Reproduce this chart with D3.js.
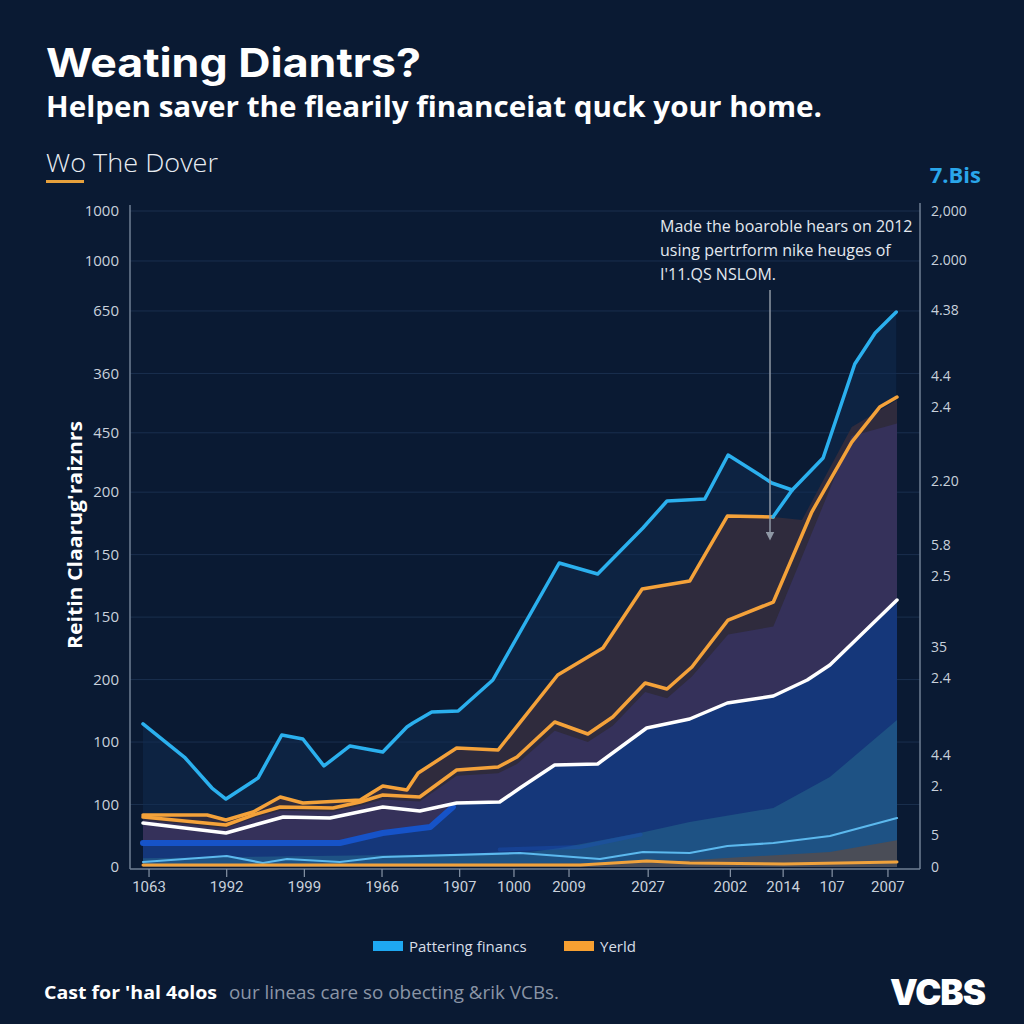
<!DOCTYPE html>
<html>
<head>
<meta charset="utf-8">
<script src="https://cdn.jsdelivr.net/npm/d3@7"></script>
<style>
  html, body { margin: 0; padding: 0; background: #0a1a33; }
  svg { display: block; }
</style>
</head>
<body>
<svg id="chart" width="1024" height="1024"></svg>
<script>
// ---------------- DATA ----------------
// x in period units (0..100), y in value units (0..1050)
const leftTickValues = [0, 100, 200, 300, 400, 500, 600, 695, 790, 890, 970, 1050];
const leftTickLabels = ["0", "100", "100", "200", "150", "150", "200", "450", "360", "650", "1000", "1000"];
const rightTickValues = [0, 51, 130, 179, 302, 352, 466, 515, 618, 736, 786, 891, 971, 1050];
const rightTickLabels = ["0", "5", "2.", "4.4", "2.4", "35", "2.5", "5.8", "2.20", "2.4", "4.4", "4.38", "2.000", "2,000"];
const xTickValues = [0.8, 11.1, 21.4, 31.7, 42.0, 49.2, 56.5, 67.0, 77.9, 84.9, 91.4, 98.8];
const xTickLabels = ["1063", "1992", "1999", "1966", "1907", "1000", "2009", "2027", "2002", "2014", "107", "2007"];

const blueMain = [[0,229],[5.6,174.5],[9.15,126.4],[11,108.8],[15.25,142.4],[18.4,211.3],[21.2,204.9],[24,161.7],
  [27.45,193.7],[31.8,184.1],[35,224.1],[35.8,230.5],[38.3,248.1],[41.8,249.7],[46.4,299.3],[55.2,486.6],
  [60.3,469],[66.3,542.6],[69.5,585.8],[74.5,589],[77.6,659.4],[81.8,627.4],[83.4,614.6],[86.1,603.4]];
const blueRise = [[83.55,560.2],[86.1,603.4],[90.2,654.6],[94.4,805.1],[97.1,854.7],[99.9,888.3]];

const orangeUpper = [[0,83.2],[8.5,83.2],[11,75.2],[14.6,88],[18.2,112],[21.2,102.4],[28.8,107.2],[31.8,129.6],
  [35,123.2],[36.5,150.4],[41.6,190.5],[47.1,187.3],[55,307.3],[61,350.5],[66.2,444.9],[72.5,457.7],[77.5,561.8],[83.6,560.2]];
const orangeLower = [[0,80],[11,67.2],[14.6,83.2],[18.2,96],[25.2,94.4],[28.8,104],[31.8,115.2],[36.7,112],[41.6,155.2],
  [47.1,160.1],[49.6,176.1],[54.6,232.1],[59,212.9],[62.3,240.1],[66.6,294.5],[69.5,284.9],[72.8,320.1],[77.6,395.3],
  [83.6,424.1],[88.7,568.2],[94,680.2],[97.7,736.2],[100,752.2]];
const whiteLine = [[0,70.4],[11,54.4],[18.6,80],[24.8,78.4],[31.8,96],[36.7,89.6],[41.6,102.4],[47.3,104],[50,126.4],
  [54.6,163.3],[60.3,164.9],[66.8,222.5],[72.5,236.9],[77.5,262.5],[83.6,273.7],[88.1,299.3],[91.1,323.3],[100,427.3]];
const blueBand = [[0,38.4],[26.1,38.4],[31.8,54.4],[38.1,64],[41.1,96]];
const blueBand2 = [[47.3,28],[58,32],[66,52]];
const lightLine = [[0,8],[11.1,17.6],[15.9,6.4],[19.1,12.8],[26.1,8],[31.8,16],[50,22.4],[60.6,12.8],[66.3,24],
  [72.5,22.4],[77.5,33.6],[83.6,38.4],[91.1,49.6],[100,78.4]];
const orangeBottom = [[0,3.2],[58,3.2],[66.8,9.6],[72.5,6.4],[85,5],[100,8]];

const brownExtra = [[87.4,555.4],[94,704.2],[100,747.4]];
const purpleTop = [[0,75],[11,62],[14.6,78],[18.2,90],[25.2,89],[28.8,98],[31.8,108],[36.7,105],[41.6,146],[47.1,150],
  [49.6,165],[54.6,218],[59,200],[62.3,226],[66.6,280],[69.5,270],[72.8,305],[77.6,372],[83.6,385],[94,690],[100,710]];
const steelTop = [[0,14],[50,22],[55.3,30.4],[65.9,54.4],[72.5,72],[83.6,94.4],[91.1,144],[100,235.3]];
const greyTop = [[0,3],[60,6],[72.5,11],[91.1,24],[100,43]];

// ---------------- LAYOUT ----------------
const svg = d3.select("#chart");
const W = 1024, H = 1024;
const x = d3.scaleLinear().domain([0, 100]).range([143, 897]);
const y = d3.scaleLinear().domain([0, 1050]).range([867, 211]);
const plotL = 130, plotR = 920, plotB = 869, plotT = 205;

svg.append("rect").attr("width", W).attr("height", H).attr("fill", "#0a1a33");

// gridlines
svg.append("g").selectAll("line").data(leftTickValues.slice(1)).join("line")
  .attr("x1", plotL).attr("x2", plotR)
  .attr("y1", d => y(d)).attr("y2", d => y(d))
  .attr("stroke", "#1a2f4e").attr("stroke-width", 1);

const line = d3.line().x(d => x(d[0])).y(d => y(d[1]));
const area = d3.area().x(d => x(d[0])).y0(y(0)).y1(d => y(d[1]));

// areas
const underBlue = blueMain.concat(blueRise.slice(2));
svg.append("path").attr("d", area(underBlue)).attr("fill", "#0f2b52").attr("opacity", 0.5);
svg.append("path").attr("d", area(orangeUpper.concat(brownExtra))).attr("fill", "#2f2b3d");
svg.append("path").attr("d", area(purpleTop)).attr("fill", "#35315a");
const navyTop = blueBand.concat(whiteLine.filter(d => d[0] > 41.2));
svg.append("path").attr("d", area(navyTop)).attr("fill", "#15377a");
svg.append("path").attr("d", area(steelTop)).attr("fill", "#1e5284");
svg.append("path").attr("d", area(greyTop)).attr("fill", "#4a4d57");

// lines
function drawLine(data, color, w, op) {
  svg.append("path").attr("d", line(data)).attr("fill", "none")
    .attr("stroke", color).attr("stroke-width", w).attr("stroke-linejoin", "round")
    .attr("stroke-linecap", "round").attr("opacity", op || 1);
}
drawLine(blueBand, "#1653c8", 6);
drawLine(blueBand2, "#1a4fb8", 4, 0.4);
drawLine(lightLine, "#5cb9ee", 2.2);
drawLine(orangeBottom, "#f0a23c", 3);
drawLine(whiteLine, "#ffffff", 3.5);
drawLine(orangeLower, "#f4a23a", 3.5);
drawLine(orangeUpper, "#f4a23a", 3.5);
drawLine(blueMain, "#2bb0ee", 3.5);
drawLine(blueRise, "#2bb0ee", 3.5);

// axes lines
svg.append("line").attr("x1", plotL).attr("x2", plotL).attr("y1", plotT).attr("y2", plotB)
  .attr("stroke", "#6f7f95").attr("stroke-width", 1.5);
svg.append("line").attr("x1", plotR).attr("x2", plotR).attr("y1", plotT - 2).attr("y2", plotB)
  .attr("stroke", "#6f7f95").attr("stroke-width", 1.5);
svg.append("line").attr("x1", plotL).attr("x2", plotR).attr("y1", plotB).attr("y2", plotB)
  .attr("stroke", "#6f7f95").attr("stroke-width", 1.5);

// left ticks
svg.append("g").selectAll("text").data(leftTickValues).join("text")
  .attr("x", 119).attr("y", d => y(d)).attr("dy", "0.35em")
  .attr("text-anchor", "end").attr("fill", "#c9d1dc")
  .attr("font-family", "'Open Sans', sans-serif").attr("font-size", 15)
  .text((d, i) => leftTickLabels[i]);

// right ticks
svg.append("g").selectAll("text").data(rightTickValues).join("text")
  .attr("x", 931).attr("y", d => y(d)).attr("dy", "0.35em")
  .attr("text-anchor", "start").attr("fill", "#c9d1dc")
  .attr("font-family", "'Open Sans', sans-serif").attr("font-size", 14)
  .text((d, i) => rightTickLabels[i]);

// x ticks
const xg = svg.append("g");
xg.selectAll("line").data(xTickValues).join("line")
  .attr("x1", d => x(d)).attr("x2", d => x(d)).attr("y1", plotB).attr("y2", plotB + 8)
  .attr("stroke", "#8794a6").attr("stroke-width", 1.2);
xg.selectAll("text").data(xTickValues).join("text")
  .attr("x", d => x(d)).attr("y", 892)
  .attr("text-anchor", "middle").attr("fill", "#c9d1dc")
  .attr("font-family", "Roboto, sans-serif").attr("font-size", 15)
  .text((d, i) => xTickLabels[i]);

// y-axis title
svg.append("text").attr("transform", "translate(82,535) rotate(-90)")
  .attr("text-anchor", "middle").attr("fill", "#ffffff").attr("font-weight", 700)
  .attr("font-family", "'Open Sans', sans-serif").attr("font-size", 19)
  .attr("textLength", 228).attr("lengthAdjust", "spacingAndGlyphs")
  .text("Reitin Claarug'raiznrs");

// annotation
const ann = ["Made the boaroble hears on 2012", "using pertrform nike heuges of", "I'11.QS NSLOM."];
svg.append("g").selectAll("text").data(ann).join("text")
  .attr("x", 660).attr("y", (d, i) => 232 + i * 24)
  .attr("fill", "#e3e8ef").attr("font-family", "'Open Sans', sans-serif").attr("font-size", 16)
  .text(d => d);
svg.append("defs").append("marker").attr("id", "arr").attr("viewBox", "0 0 10 10")
  .attr("refX", 5).attr("refY", 5).attr("markerWidth", 6).attr("markerHeight", 6).attr("orient", "auto")
  .append("path").attr("d", "M0,0 L10,5 L0,10 z").attr("fill", "#8f98a5");
svg.append("line").attr("x1", 770).attr("x2", 770).attr("y1", 290).attr("y2", 536)
  .attr("stroke", "#8f98a5").attr("stroke-width", 1.5).attr("marker-end", "url(#arr)");

// titles
svg.append("text").attr("x", 46).attr("y", 77).attr("fill", "#ffffff")
  .attr("font-family", "Inter, 'Open Sans', sans-serif").attr("font-weight", 700).attr("font-size", 40)
  .attr("textLength", 375).attr("lengthAdjust", "spacingAndGlyphs")
  .text("Weating Diantrs?");
svg.append("text").attr("x", 46).attr("y", 117).attr("fill", "#ffffff")
  .attr("font-family", "'Open Sans', sans-serif").attr("font-weight", 700).attr("font-size", 28)
  .attr("textLength", 776).attr("lengthAdjust", "spacingAndGlyphs")
  .text("Helpen saver the flearily financeiat quck your home.");
svg.append("text").attr("x", 46).attr("y", 172).attr("fill", "#e8ecf2")
  .attr("font-family", "'Open Sans', sans-serif").attr("font-weight", 300).attr("font-size", 26)
  .attr("textLength", 172).attr("lengthAdjust", "spacingAndGlyphs")
  .text("Wo The Dover");
svg.append("rect").attr("x", 46).attr("y", 180).attr("width", 38).attr("height", 3).attr("fill", "#e6a03c");
svg.append("text").attr("x", 981).attr("y", 183).attr("text-anchor", "end").attr("fill", "#2aa6ea")
  .attr("font-family", "'Open Sans', sans-serif").attr("font-weight", 700).attr("font-size", 22)
  .text("7.Bis");

// legend
const legendItems = ["Pattering financs", "Yerld"];
const legendColors = ["#1ea8f2", "#f7a032"];
const legendX = [373, 564];
legendItems.forEach((t, i) => {
  svg.append("rect").attr("x", legendX[i]).attr("y", 941).attr("width", 30).attr("height", 10).attr("fill", legendColors[i]);
  svg.append("text").attr("x", legendX[i] + 36).attr("y", 952).attr("fill", "#d8dee7")
    .attr("font-family", "'Open Sans', sans-serif").attr("font-size", 15).text(t);
});

// footer
svg.append("text").attr("x", 44).attr("y", 999).attr("fill", "#ffffff")
  .attr("font-family", "'Open Sans', sans-serif").attr("font-weight", 700).attr("font-size", 18)
  .attr("textLength", 173).attr("lengthAdjust", "spacingAndGlyphs")
  .text("Cast for 'hal 4olos");
svg.append("text").attr("x", 229).attr("y", 999).attr("fill", "#8a95a6")
  .attr("font-family", "'Open Sans', sans-serif").attr("font-size", 18)
  .attr("textLength", 330).attr("lengthAdjust", "spacingAndGlyphs")
  .text("our lineas care so obecting &rik VCBs.");
svg.append("text").attr("x", 985).attr("y", 1005).attr("text-anchor", "end").attr("fill", "#ffffff")
  .attr("font-family", "Inter, 'Open Sans', sans-serif").attr("font-weight", 900).attr("font-size", 35)
  .attr("letter-spacing", -1)
  .text("VCBS");
</script>
</body>
</html>
